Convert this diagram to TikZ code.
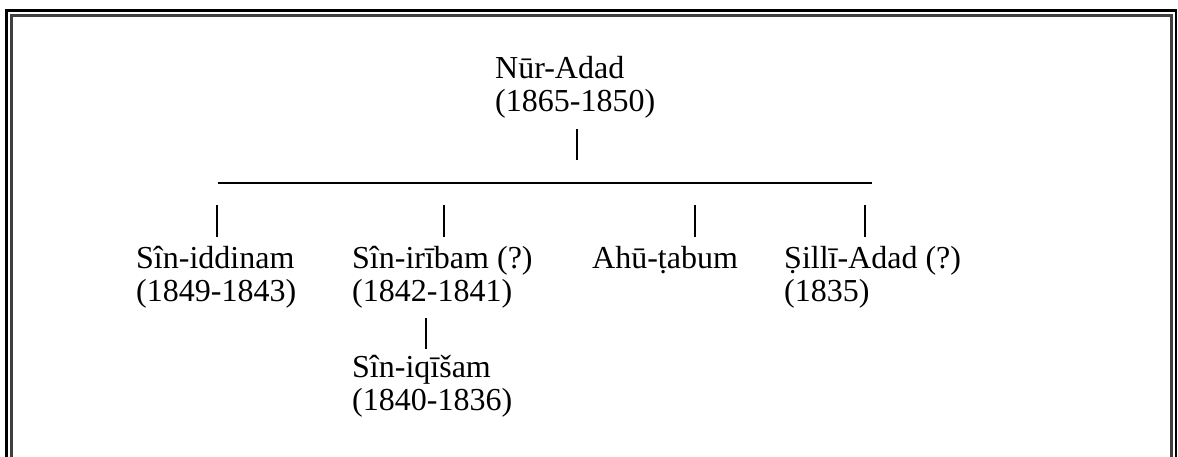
\documentclass[tikz,border=0pt]{standalone}
\usepackage{fontspec}
\setmainfont{Liberation Serif}
\begin{document}
\begin{tikzpicture}[x=1pt,y=-1pt,
  person/.style={inner sep=0pt,anchor=base west,font=\fontsize{32}{33}\selectfont},
  tick/.style={line width=2.5pt},
  bar/.style={line width=1.5pt},
  frameout/.style={line width=2.7pt,black},
  framein/.style={line width=3.2pt,black!75}]
\useasboundingbox (0,0) rectangle (1178,457);
% frame
\draw[frameout] (6.2,457) -- (6.2,10.7) -- (1176,10.7) -- (1176,457);
\draw[framein] (11.7,457) -- (11.7,15.7) -- (1171.7,15.7) -- (1171.7,457);
% people
\node[person] (nur) at (495,79) {\begin{tabular}[t]{@{}l@{}}Nūr-Adad\\(1865-1850)\end{tabular}};
\node[person] (iddinam) at (136,268) {\begin{tabular}[t]{@{}l@{}}Sîn-iddinam\\(1849-1843)\end{tabular}};
\node[person] (iribam) at (352,268) {\begin{tabular}[t]{@{}l@{}}Sîn-irībam (?)\\(1842-1841)\end{tabular}};
\node[person] (iqisam) at (352,377) {\begin{tabular}[t]{@{}l@{}}Sîn-iqīšam\\(1840-1836)\end{tabular}};
\node[person] (ahu) at (592,268) {Ahū-ṭabum};
\node[person] (silli) at (784,268) {\begin{tabular}[t]{@{}l@{}}Ṣillī-Adad (?)\\(1835)\end{tabular}};
% connector ends
\coordinate (nurA) at (577,129); \coordinate (nurB) at (577,160);
\coordinate (barL) at (218,183); \coordinate (barR) at (872,183);
\coordinate (iddA) at (217,205); \coordinate (iddB) at (217,237);
\coordinate (iriA) at (444,205); \coordinate (iriB) at (444,237);
\coordinate (ahuA) at (695,205); \coordinate (ahuB) at (695,237);
\coordinate (silA) at (865,205); \coordinate (silB) at (865,237);
\coordinate (iqiA) at (426,318); \coordinate (iqiB) at (426,349);
% connectors
\draw[tick] (nurA) -- (nurB);
\draw[bar] (barL) -- (barR);
\draw[tick] (iddA) -- (iddB);
\draw[tick] (iriA) -- (iriB);
\draw[tick] (ahuA) -- (ahuB);
\draw[tick] (silA) -- (silB);
\draw[tick] (iqiA) -- (iqiB);
\end{tikzpicture}
\end{document}
